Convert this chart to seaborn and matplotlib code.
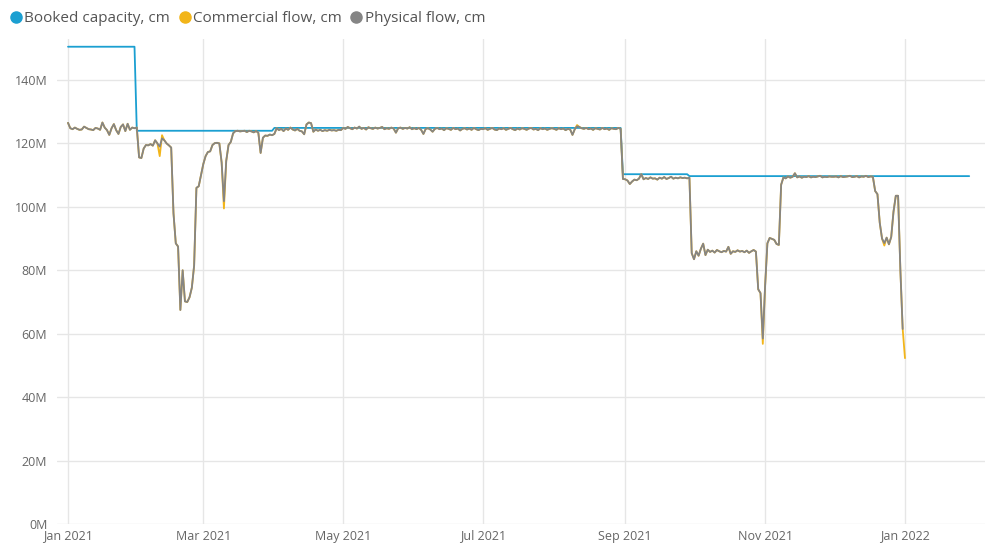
import numpy as np
import pandas as pd
import matplotlib
matplotlib.use("Agg")
import matplotlib.pyplot as plt
import matplotlib.dates as mdates
from matplotlib.lines import Line2D
import seaborn as sns

# daily physical flow, M cm, 1 Jan 2021 .. 31 Dec 2021
phys_jan = [126.5, 124.8, 124.5, 125.0, 124.6, 124.3, 124.4, 125.3, 124.9, 124.5,
            124.4, 124.2, 124.9, 124.7, 124.3, 126.6, 125.0, 124.2, 122.7, 124.8,
            126.1, 124.2, 123.0, 125.2, 126.0, 123.9, 126.2, 124.3, 125.0, 124.8, 125.0]
phys_feb = [115.6, 115.4, 118.4, 119.5, 119.4, 119.8, 119.3, 121.0, 120.0, 119.0,
            121.6, 121.0, 120.0, 119.4, 118.7, 98.0, 88.5, 87.5, 67.5, 80.0,
            70.2, 70.0, 71.5, 74.5, 81.5, 106.0, 106.5, 110.0]
phys_mar = [113.5, 116.0, 117.3, 117.5, 119.5, 120.1, 120.2, 120.0, 114.0, 101.8,
            114.5, 119.5, 120.5, 123.2, 123.9, 124.0, 123.8, 123.9, 124.0, 123.6,
            124.0, 123.8, 123.5, 123.9, 123.4, 117.0, 121.8, 122.5, 122.4, 122.8, 122.6]
phys_apr = [123.0, 124.8, 124.2, 124.6, 123.9, 124.7, 124.3, 125.0, 124.4, 124.1,
            124.6, 124.0, 123.8, 122.9, 126.0, 126.6, 126.4, 123.7, 124.4, 124.0,
            124.3, 123.9, 124.2, 124.0, 124.3, 124.1, 124.2, 124.0, 124.3, 124.2]
phys_may = [124.9, 124.6, 125.2, 124.8, 124.5, 125.0, 124.7, 125.3, 124.6, 124.9,
            124.4, 125.1, 124.8, 124.6, 125.0, 124.7, 124.9, 125.2, 124.5, 124.8,
            124.6, 125.0, 124.7, 123.4, 124.8, 125.0, 124.6, 124.9, 124.7, 125.1, 124.5]
phys_jun = [124.8, 124.5, 124.9, 124.3, 123.0, 124.6, 124.8, 124.4, 123.7, 124.6,
            124.9, 124.5, 124.7, 124.2, 124.8, 124.6, 124.3, 124.9, 124.5, 124.7,
            124.1, 124.6, 124.8, 124.4, 124.7, 124.3, 124.9, 124.5, 124.2, 124.6]
phys_jul = [124.5, 124.8, 124.3, 124.6, 124.9, 124.4, 124.2, 124.7, 124.5, 124.8,
            124.3, 124.6, 124.9, 124.5, 124.2, 124.7, 124.4, 124.8, 124.6, 124.3,
            124.7, 124.9, 124.4, 124.6, 124.2, 124.8, 124.5, 124.7, 124.3, 124.6, 124.8]
phys_aug = [124.6, 124.3, 124.8, 124.5, 124.7, 124.2, 124.6, 124.4, 122.7, 124.5,
            125.4, 125.2, 124.8, 124.6, 124.9, 124.5, 124.7, 124.3, 124.8, 124.6,
            124.4, 124.9, 124.5, 124.7, 124.3, 124.8, 124.6, 124.5, 124.9, 124.6, 108.8]
phys_sep = [108.7, 108.3, 107.2, 108.0, 108.6, 108.4, 108.9, 110.3, 108.7, 109.1,
            108.8, 109.3, 108.9, 109.0, 108.6, 109.2, 108.9, 109.4, 108.8, 109.1,
            109.5, 108.9, 109.2, 109.0, 109.3, 109.1, 109.2, 109.0, 109.2, 85.4]
phys_oct = [83.5, 86.0, 84.6, 86.8, 88.4, 84.8, 86.5, 85.8, 86.2, 85.6,
            86.4, 86.0, 85.7, 86.1, 85.9, 87.4, 85.2, 86.0, 85.8, 86.3,
            85.9, 86.1, 85.7, 86.2, 85.5, 86.0, 86.4, 85.9, 74.0, 72.8, 58.5]
phys_nov = [75.0, 88.5, 90.2, 89.9, 89.6, 88.3, 88.0, 107.0, 109.3, 109.0,
            109.6, 109.2, 109.5, 110.6, 109.3, 109.6, 109.2, 109.5, 109.4, 109.7,
            109.3, 109.5, 109.4, 109.6, 109.8, 109.3, 109.5, 109.4, 109.6, 109.5]
phys_dec = [109.5, 109.6, 109.3, 109.7, 109.4, 109.5, 109.6, 109.8, 109.4, 109.5,
            109.7, 109.3, 109.6, 109.5, 109.8, 109.4, 109.6, 109.5, 105.0, 104.0,
            95.0, 90.0, 88.6, 90.3, 88.2, 90.5, 98.5, 103.5, 103.5, 80.0, 61.5]

# commercial flow follows physical except on these days (plus 1 Jan 2022)
comm_diff_dates = ["2021-02-10", "2021-02-11", "2021-03-10", "2021-08-11",
                   "2021-10-31", "2021-12-23", "2022-01-01"]
comm_diff_vals = [116.0, 122.6, 99.5, 125.8, 56.8, 87.8, 52.3]

# booked capacity steps: start date and level
booked_start = ["2021-01-01", "2021-01-31", "2021-04-01", "2021-08-31",
                "2021-09-29", "2022-01-29"]
booked_level = [150.5, 124.0, 124.9, 110.3, 109.7, 109.7]

labels = ["Booked capacity, cm", "Commercial flow, cm", "Physical flow, cm"]
colors = ["#1B9FD1", "#F2B51A", "#858585"]

phys = (phys_jan + phys_feb + phys_mar + phys_apr + phys_may + phys_jun
        + phys_jul + phys_aug + phys_sep + phys_oct + phys_nov + phys_dec)
phys_dates = pd.date_range("2021-01-01", periods=len(phys), freq="D")
phys_s = pd.Series(phys, index=phys_dates)

comm_s = phys_s.copy()
for d, v in zip(comm_diff_dates, comm_diff_vals):
    comm_s[pd.Timestamp(d)] = v
comm_s = comm_s.sort_index()

bk_dates = pd.date_range(booked_start[0], booked_start[-1], freq="D")
bk_s = pd.Series(booked_level, index=pd.to_datetime(booked_start))
bk_s = bk_s.reindex(bk_dates).ffill()

df = pd.concat([
    pd.DataFrame({"date": bk_s.index, "value": bk_s.values, "series": labels[0]}),
    pd.DataFrame({"date": comm_s.index, "value": comm_s.values, "series": labels[1]}),
    pd.DataFrame({"date": phys_s.index, "value": phys_s.values, "series": labels[2]}),
])
df["value"] = df["value"] * 1e6

sns.set_style("white")
plt.rcParams["font.family"] = ["Open Sans", "DejaVu Sans"]

fig = plt.figure(figsize=(10.01, 5.56), dpi=100)
ax = fig.add_axes([57 / 1001, 1 - 524 / 556, (985 - 57) / 1001, (524 - 38.8) / 556])

sns.lineplot(data=df, x="date", y="value", hue="series", hue_order=labels,
             palette=dict(zip(labels, colors)), linewidth=1.3, legend=False, ax=ax)

t0 = pd.Timestamp("2021-01-01")
ax.set_xlim(t0 - pd.Timedelta(days=4.8), t0 + pd.Timedelta(days=399.9))
ax.set_ylim(0, 153e6)
ax.set_yticks(np.arange(0, 141e6, 20e6))
ax.set_yticklabels([f"{int(v / 1e6)}M" for v in np.arange(0, 141e6, 20e6)])
ax.xaxis.set_major_locator(mdates.MonthLocator(bymonth=[1, 3, 5, 7, 9, 11]))
ax.xaxis.set_major_formatter(mdates.DateFormatter("%b %Y"))
ax.grid(True, color="#e6e6e6", linewidth=1)
ax.set_axisbelow(True)
for s in ax.spines.values():
    s.set_visible(False)
ax.tick_params(axis="both", length=0, labelsize=9, colors="#666666")
ax.tick_params(axis="x", pad=4)
ax.tick_params(axis="y", pad=7)
ax.set_xlabel("")
ax.set_ylabel("")

handles = [Line2D([0], [0], marker="o", linestyle="", markersize=8,
                  markerfacecolor=c, markeredgecolor=c) for c in colors]
fig.legend(handles, labels, loc="upper left", bbox_to_anchor=(-0.004, 1.005),
           ncol=3, frameon=False, fontsize=11, handlelength=0.8,
           handletextpad=0.15, columnspacing=0.55, labelcolor="#555555")

fig.savefig("out.png", dpi=100)
